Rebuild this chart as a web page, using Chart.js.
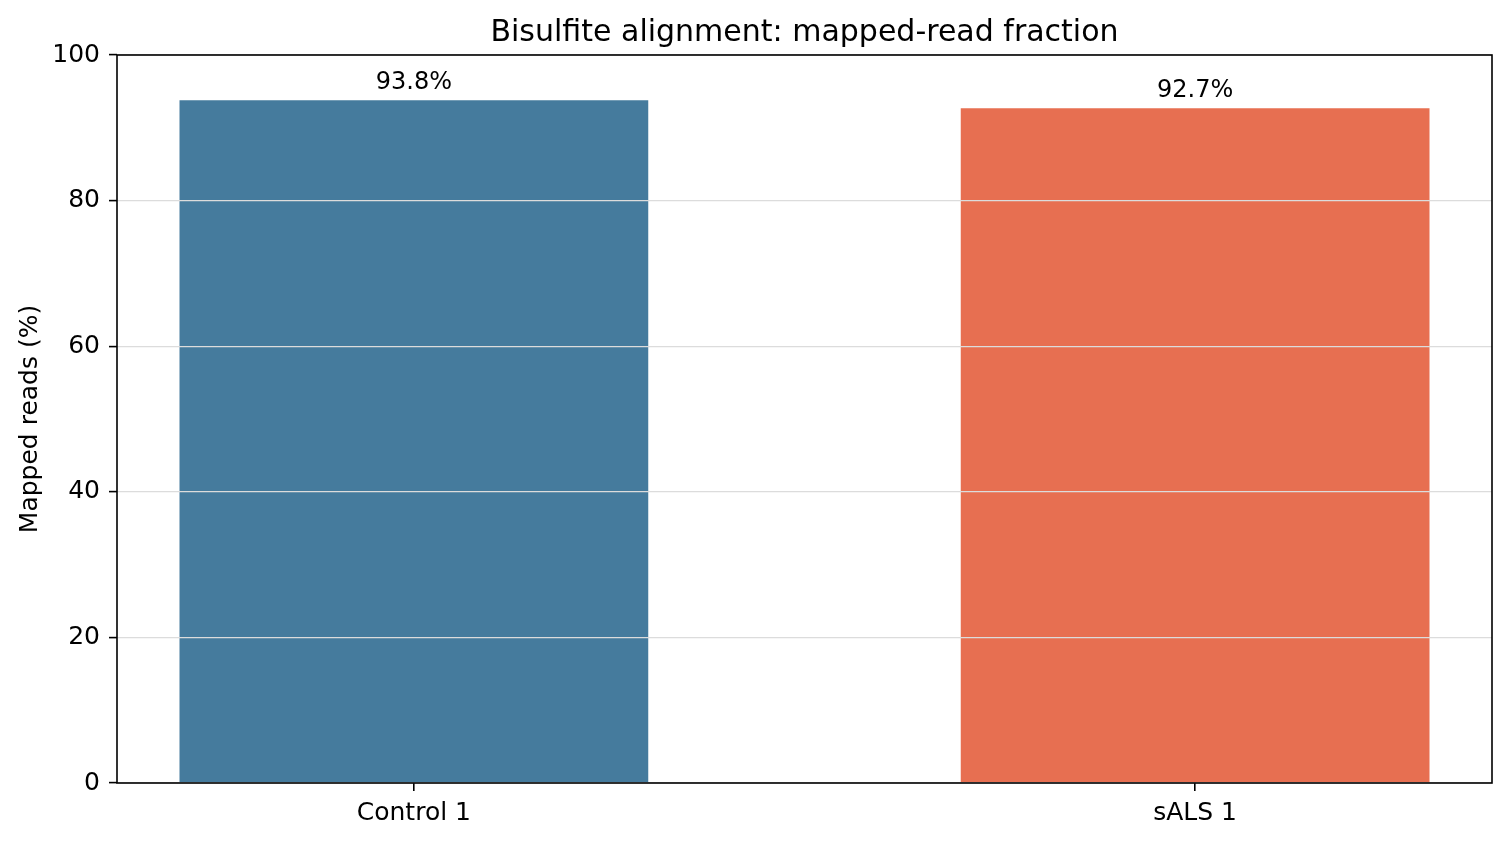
<!DOCTYPE html>
<html>
<head>
<meta charset="utf-8">
<script src="https://cdn.jsdelivr.net/npm/chart.js@4"></script>
<style>
    html, body { margin: 0; padding: 0; background: #fff; }
    #chart { display: block; }
</style>
</head>
<body>
<canvas id="chart" width="1510" height="842"></canvas>
<script>
// Chart data
const sampleNames = ['Control 1', 'sALS 1'];
const mappedPct = [93.8, 92.7];
const barColors = ['#457b9d', '#e76f51'];
const yTickValues = [0, 20, 40, 60, 80, 100];
const chartTitle = 'Bisulfite alignment: mapped-read fraction';

const FONT = "'DejaVu Sans', sans-serif";
const samplePos = sampleNames.map((_, i) => i);

// Value labels above the bars
const barLabels = {
    id: 'barLabels',
    afterDatasetsDraw(chart) {
        const ctx = chart.ctx;
        const meta = chart.getDatasetMeta(0);
        ctx.save();
        ctx.font = `24px ${FONT}`;
        ctx.fillStyle = '#000';
        ctx.textAlign = 'center';
        ctx.textBaseline = 'alphabetic';
        meta.data.forEach((bar, i) => {
            ctx.fillText(mappedPct[i].toFixed(1) + '%', bar.x, bar.y - 11);
        });
        ctx.restore();
    }
};

// Black box round the plot area, title centred over it
const frame = {
    id: 'frame',
    afterDraw(chart) {
        const { left, top, right, bottom } = chart.chartArea;
        const ctx = chart.ctx;
        ctx.save();
        ctx.strokeStyle = '#000';
        ctx.lineWidth = 1.6;
        ctx.strokeRect(left, top, right - left, bottom - top);

        ctx.font = `30px ${FONT}`;
        ctx.fillStyle = '#000';
        ctx.textAlign = 'center';
        ctx.textBaseline = 'middle';
        ctx.fillText(chartTitle, (left + right) / 2, top - 22);
        ctx.restore();
    }
};

const ctx = document.getElementById('chart').getContext('2d');
new Chart(ctx, {
    type: 'bar',
    data: {
        datasets: [{
            data: samplePos.map(i => ({ x: i, y: mappedPct[i] })),
            backgroundColor: barColors,
            borderWidth: 0,
            categoryPercentage: 1,
            barPercentage: 0.6
        }]
    },
    options: {
        responsive: false,
        animation: false,
        devicePixelRatio: 1,
        layout: {
            padding: { top: 55, right: 18, bottom: 0, left: 0 }
        },
        scales: {
            x: {
                type: 'linear',
                min: -0.38,
                max: 1.38,
                offset: false,
                afterBuildTicks: (scale) => {
                    scale.ticks = samplePos.map(v => ({ value: v }));
                },
                afterFit: (scale) => { scale.height = 59; },
                ticks: {
                    autoSkip: false,
                    maxRotation: 0,
                    padding: 7,
                    color: '#000',
                    font: { family: FONT, size: 25 },
                    callback: (value) => sampleNames[value] ?? ''
                },
                grid: {
                    offset: false,
                    drawOnChartArea: false,
                    tickLength: 8,
                    tickColor: '#000',
                    lineWidth: 1.6
                },
                border: { display: false }
            },
            y: {
                min: 0,
                max: 100,
                afterBuildTicks: (scale) => {
                    scale.ticks = yTickValues.map(v => ({ value: v }));
                },
                afterFit: (scale) => { scale.width = 117; },
                ticks: {
                    padding: 9,
                    color: '#000',
                    font: { family: FONT, size: 25 }
                },
                grid: {
                    z: 1,
                    color: '#dcdcdc',
                    lineWidth: 1.2,
                    tickLength: 8,
                    tickColor: '#000',
                    tickWidth: 1.6
                },
                border: { display: false },
                title: {
                    display: true,
                    text: 'Mapped reads (%)',
                    color: '#000',
                    font: { family: FONT, size: 25 },
                    padding: { top: 15, bottom: 0 }
                }
            }
        },
        plugins: {
            legend: { display: false },
            tooltip: { enabled: false },
            title: { display: false }
        }
    },
    plugins: [barLabels, frame]
});
</script>
</body>
</html>
